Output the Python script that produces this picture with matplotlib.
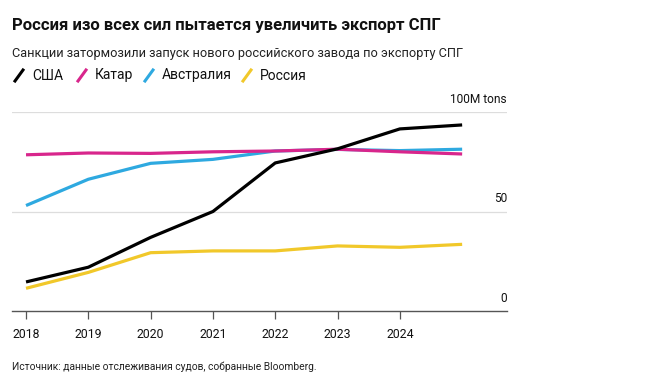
import matplotlib
matplotlib.use("Agg")
import matplotlib.pyplot as plt
from matplotlib.lines import Line2D

plt.rcParams['font.family'] = ['Roboto', 'Liberation Sans', 'DejaVu Sans']

years = [2018, 2019, 2020, 2021, 2022, 2023, 2024, 2025]
tick_years = [2018, 2019, 2020, 2021, 2022, 2023, 2024]
tick_labels = ["2018", "2019", "2020", "2021", "2022", "2023", "2024"]
usa = [14.6, 22.0, 37.0, 50.0, 74.4, 81.5, 91.5, 93.5]
qatar = [78.5, 79.4, 79.2, 80.0, 80.4, 81.3, 80.0, 78.9]
australia = [53.0, 66.2, 74.2, 76.2, 80.4, 81.2, 80.6, 81.3]
russia = [11.4, 19.4, 29.3, 30.2, 30.2, 32.7, 32.0, 33.5]
series_names = ["США", "Катар", "Австралия", "Россия"]
colors = ["#000000", "#d8268c", "#2ea9e0", "#f1c82a"]
y_ticks = [0, 50, 100]
y_labels = ["0", "50", "100M tons"]

W, H = 648, 391
fig = plt.figure(figsize=(W / 100, H / 100), dpi=100)

left_px, right_px, top_px, bot_px = 12, 507, 112, 311
ax = fig.add_axes([left_px / W, 1 - bot_px / H, (right_px - left_px) / W, (bot_px - top_px) / H])

series = [usa, qatar, australia, russia]
# draw order: russia, australia, qatar, usa on top
for i in [3, 2, 1, 0]:
    ax.plot(years, series[i], color=colors[i], lw=2.3, solid_capstyle='butt', zorder=3)

ax.set_xlim(2017.775, 2025.72)
ax.set_ylim(0, 100)
for s in ['top', 'right', 'left']:
    ax.spines[s].set_visible(False)
ax.spines['bottom'].set_color('#555555')
ax.spines['bottom'].set_linewidth(1.0)
ax.set_yticks([])
for yv in y_ticks[1:]:
    ax.axhline(yv, color='#dddddd', lw=0.9, zorder=1)
for yv, lab in zip(y_ticks, y_labels):
    ax.text(1.0, yv + 3.2, lab, transform=ax.get_yaxis_transform(), ha='right', va='bottom',
            fontsize=8.6, color='#111111')

ax.set_xticks(tick_years)
ax.set_xticklabels(tick_labels, fontsize=8.8, color='#111111')
ax.tick_params(axis='x', length=6, width=0.9, color='#555555', pad=6)

# Title etc.
fig.text(12 / W, 1 - 30 / H, "Россия изо всех сил пытается увеличить экспорт СПГ",
         fontsize=12, fontweight='bold', ha='left', va='baseline', color='#111111')
fig.text(12 / W, 1 - 57 / H, "Санкции затормозили запуск нового российского завода по экспорту СПГ",
         fontsize=9.2, ha='left', va='baseline', color='#222222')

# legend
leg_x = [15, 78, 145, 243]
for x0, name, c in zip(leg_x, series_names, colors):
    fig.add_artist(Line2D([x0 / W, (x0 + 8) / W], [1 - 81 / H, 1 - 70 / H], color=c, lw=2.2,
                          transform=fig.transFigure))
    fig.text((x0 + 17) / W, 1 - 75.5 / H, name, fontsize=10, ha='left', va='center', color='#111111')

fig.text(12 / W, 1 - 370 / H, "Источник: данные отслеживания судов, собранные Bloomberg.",
         fontsize=7.4, ha='left', va='baseline', color='#222222')

fig.savefig("out.png", dpi=100, facecolor='white')
